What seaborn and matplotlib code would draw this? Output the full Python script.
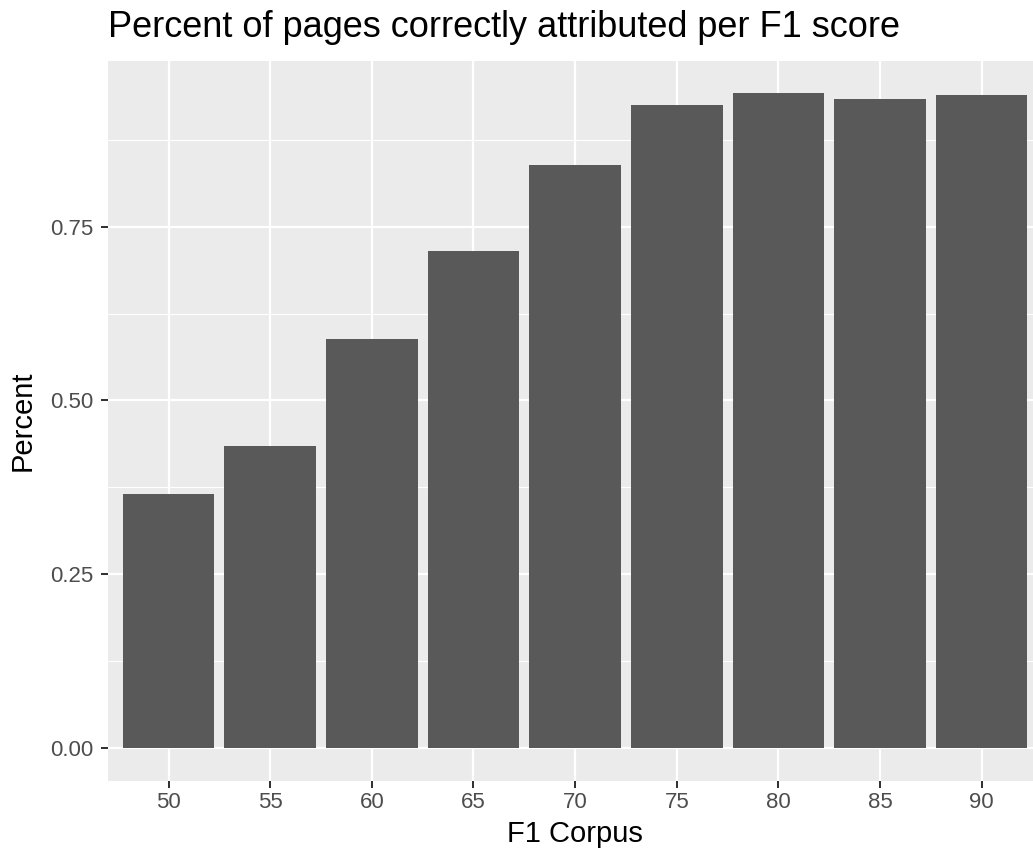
import matplotlib
matplotlib.use("Agg")
import matplotlib.pyplot as plt
import seaborn as sns
import pandas as pd
from matplotlib.ticker import FixedLocator

categories = ["50", "55", "60", "65", "70", "75", "80", "85", "90"]
percent = [0.365, 0.434, 0.589, 0.715, 0.839, 0.925, 0.942, 0.934, 0.939]
y_ticks = [0.0, 0.25, 0.50, 0.75]
y_tick_labels = ["0.00", "0.25", "0.50", "0.75"]

sns.set_theme(style="darkgrid")
plt.rcParams['font.family'] = ['Liberation Sans', 'DejaVu Sans']

df = pd.DataFrame({"F1 Corpus": categories, "Percent": percent})

fig = plt.figure(figsize=(10.33, 8.52), dpi=100)
ax = fig.add_axes([0.1041, 0.0837, 0.9053, 0.8451])
ax.set_facecolor("#EBEBEB")

sns.barplot(data=df, x="F1 Corpus", y="Percent", color="#595959", width=0.9,
            saturation=1, ax=ax, zorder=3, edgecolor="none")

ax.set_xlim(-0.6, len(categories) - 1 + 0.6)
ax.set_ylim(-0.0471, 0.989)

ax.yaxis.set_major_locator(FixedLocator(y_ticks))
ax.set_yticklabels(y_tick_labels)
ax.yaxis.set_minor_locator(FixedLocator([0.125, 0.375, 0.625, 0.875]))

ax.grid(which="major", color="white", linewidth=1.6, zorder=0)
ax.grid(which="minor", axis="y", color="white", linewidth=0.8, zorder=0)
ax.set_axisbelow(True)
for s in ax.spines.values():
    s.set_visible(False)

ax.tick_params(axis="both", which="major", length=5, width=1.45, color="#333333",
               labelsize=16, labelcolor="#4D4D4D", direction="out",
               bottom=True, left=True)
ax.tick_params(axis="x", which="major", pad=3)
ax.tick_params(axis="y", which="major", pad=5)
ax.tick_params(axis="both", which="minor", length=0)

ax.set_xlabel("F1 Corpus", fontsize=21, color="black", labelpad=5)
ax.set_ylabel("Percent", fontsize=21, color="black", labelpad=10)

fig.text(0.1041, 0.9566, "Percent of pages correctly attributed per F1 score",
         fontsize=26, color="black", ha="left", va="baseline")

fig.savefig("out.png", dpi=100)
